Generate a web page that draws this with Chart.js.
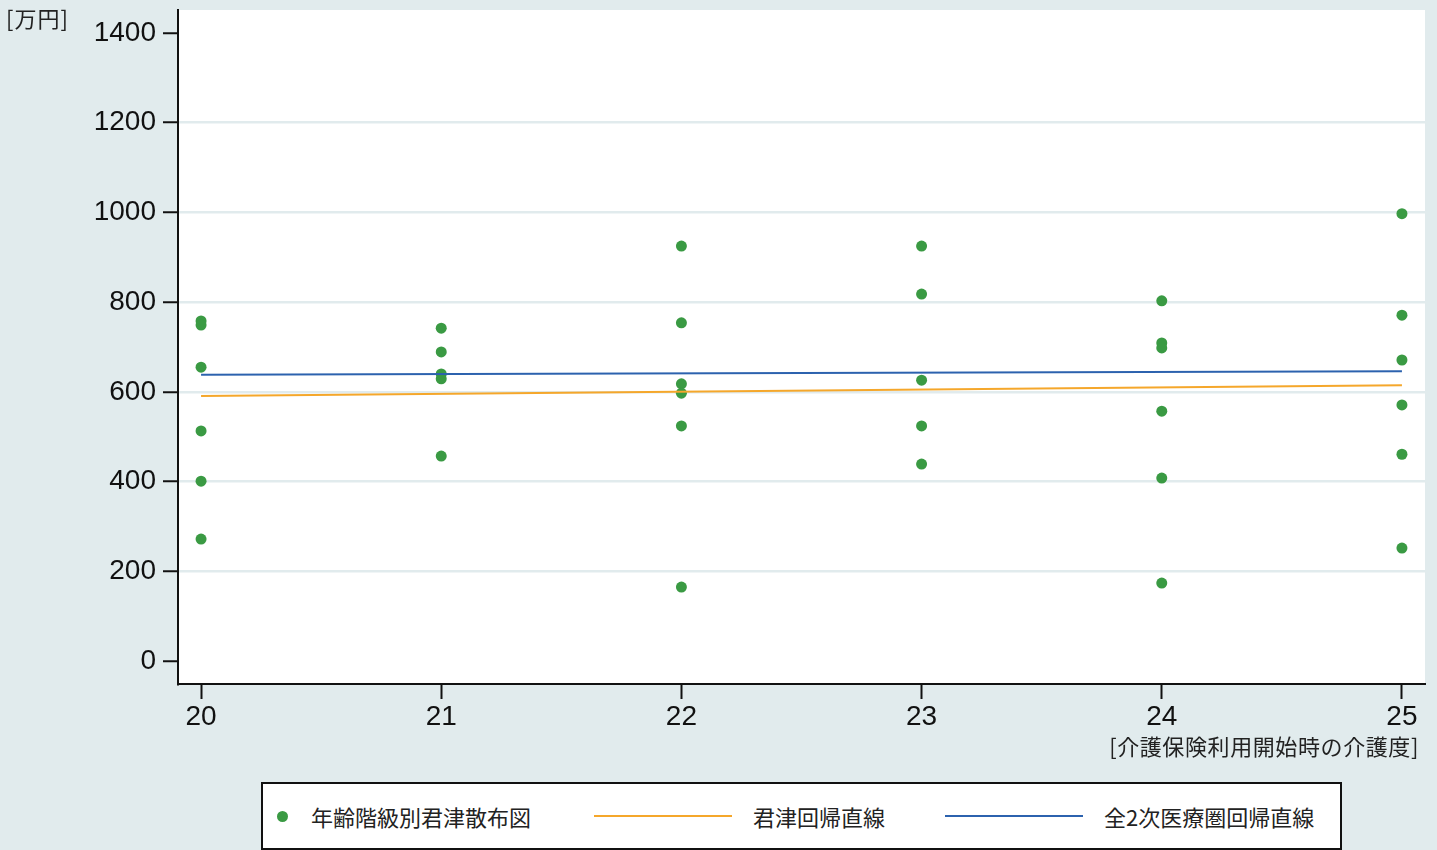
<!DOCTYPE html>
<html>
<head>
<meta charset="utf-8">
<script src="https://cdn.jsdelivr.net/npm/chart.js@4.4.1/dist/chart.umd.min.js"></script>
<style>
  html, body { margin: 0; padding: 0; background: #e1ebed; }
  #wrap { position: relative; width: 1437px; height: 850px; }
  #ytitle { position: absolute; left: 6px; top: 1px; font: 22px "Noto Sans CJK JP"; color: #222; letter-spacing: 1px; }
  #xtitle { position: absolute; right: 18px; top: 729px; font: 22px "Noto Sans CJK JP"; color: #222; letter-spacing: 0.6px; }
  #legend {
    position: absolute; left: 261px; top: 782px; width: 1077px; height: 64px;
    border: 2px solid #111; background: #fff; font: 22px "Noto Sans CJK JP"; color: #222;
  }
  .item { position: absolute; top: 0; height: 64px; display: flex; align-items: center; }
  .dot { width: 11px; height: 11px; border-radius: 50%; background: #3a9a43; }
  .ln { width: 138px; height: 2px; }
</style>
</head>
<body>
<div id="wrap">
  <canvas id="chart" width="1437" height="850"></canvas>
  <div id="ytitle">[万円]</div>
  <div id="xtitle">[介護保険利用開始時の介護度]</div>
  <div id="legend">
    <div class="item" style="left:14px"><div class="dot"></div><span style="margin-left:23px">年齢階級別君津散布図</span></div>
    <div class="item" style="left:331px"><div class="ln" style="background:#f5a72b"></div><span style="margin-left:21px">君津回帰直線</span></div>
    <div class="item" style="left:682px"><div class="ln" style="background:#2c62ae"></div><span style="margin-left:21px">全2次医療圏回帰直線</span></div>
  </div>
</div>
<script>
// 介護度 (x) categories
const levels = [20, 21, 22, 23, 24, 25];
// 年齢階級別 values per 介護度 [万円]
const level20 = [758, 749, 655, 513, 401, 272];
const level21 = [742, 689, 640, 629, 457];
const level22 = [925, 754, 618, 597, 524, 165];
const level23 = [925, 818, 626, 524, 439];
const level24 = [803, 709, 698, 557, 408, 174];
const level25 = [997, 771, 671, 571, 461, 252];
// regression lines, values at x = 20 and x = 25
const lineX = [20, 25];
const kimitsuLine = [591, 615];
const allLine = [638, 646];
const yTicks = [0, 200, 400, 600, 800, 1000, 1200, 1400];

const groups = [level20, level21, level22, level23, level24, level25];
const scatterPts = [];
groups.forEach((vals, i) => vals.forEach(v => scatterPts.push({ x: levels[i], y: v })));

const tickFont = { family: "'Liberation Sans', Arial", size: 28 };

// white plot region
const plotBg = {
  id: "plotBg",
  beforeDraw(chart) {
    const { ctx, chartArea: a } = chart;
    ctx.save();
    ctx.fillStyle = "#ffffff";
    ctx.fillRect(a.left, a.top, a.right - a.left, a.bottom - a.top);
    ctx.restore();
  },
};

const config = {
  type: "scatter",
  data: {
    datasets: [
      {
        label: "全2次医療圏回帰直線",
        data: lineX.map((x, i) => ({ x, y: allLine[i] })),
        showLine: true,
        borderColor: "#2c62ae",
        borderWidth: 2,
        pointRadius: 0,
      },
      {
        label: "君津回帰直線",
        data: lineX.map((x, i) => ({ x, y: kimitsuLine[i] })),
        showLine: true,
        borderColor: "#f5a72b",
        borderWidth: 2,
        pointRadius: 0,
      },
      {
        label: "年齢階級別君津散布図",
        data: scatterPts,
        backgroundColor: "#3a9a43",
        borderWidth: 0,
        pointRadius: 5.5,
      },
    ],
  },
  options: {
    responsive: false,
    animation: false,
    layout: { padding: { left: 0, right: 12, top: 10, bottom: 106 } },
    plugins: { legend: { display: false }, tooltip: { enabled: false } },
    scales: {
      x: {
        type: "linear",
        min: 19.904,
        max: 25.096,
        afterBuildTicks: (s) => { s.ticks = levels.map(v => ({ value: v })); },
        afterFit: (s) => { s.height = 60; s.paddingLeft = 0; s.paddingRight = 0; },
        grid: { drawOnChartArea: false, drawTicks: true, tickLength: 15, tickColor: "#111", tickWidth: 2 },
        border: { color: "#111", width: 2 },
        ticks: { color: "#111", font: tickFont, padding: 1 },
      },
      y: {
        min: -51,
        max: 1451,
        afterBuildTicks: (s) => { s.ticks = yTicks.map(v => ({ value: v })); },
        afterFit: (s) => { s.width = 178; s.paddingTop = 0; s.paddingBottom = 0; },
        grid: {
          color: (c) => (c.tick && (c.tick.value === 0 || c.tick.value === 1400) ? "rgba(0,0,0,0)" : "#e1ebed"),
          lineWidth: 2.5, drawTicks: true, tickLength: 15, tickColor: "#111", tickWidth: 2,
        },
        border: { color: "#111", width: 2 },
        ticks: { color: "#111", font: tickFont, padding: 7, callback: (v) => String(v) },
      },
    },
  },
  plugins: [plotBg],
};

const chart = new Chart(document.getElementById("chart"), config);
</script>
</body>
</html>
